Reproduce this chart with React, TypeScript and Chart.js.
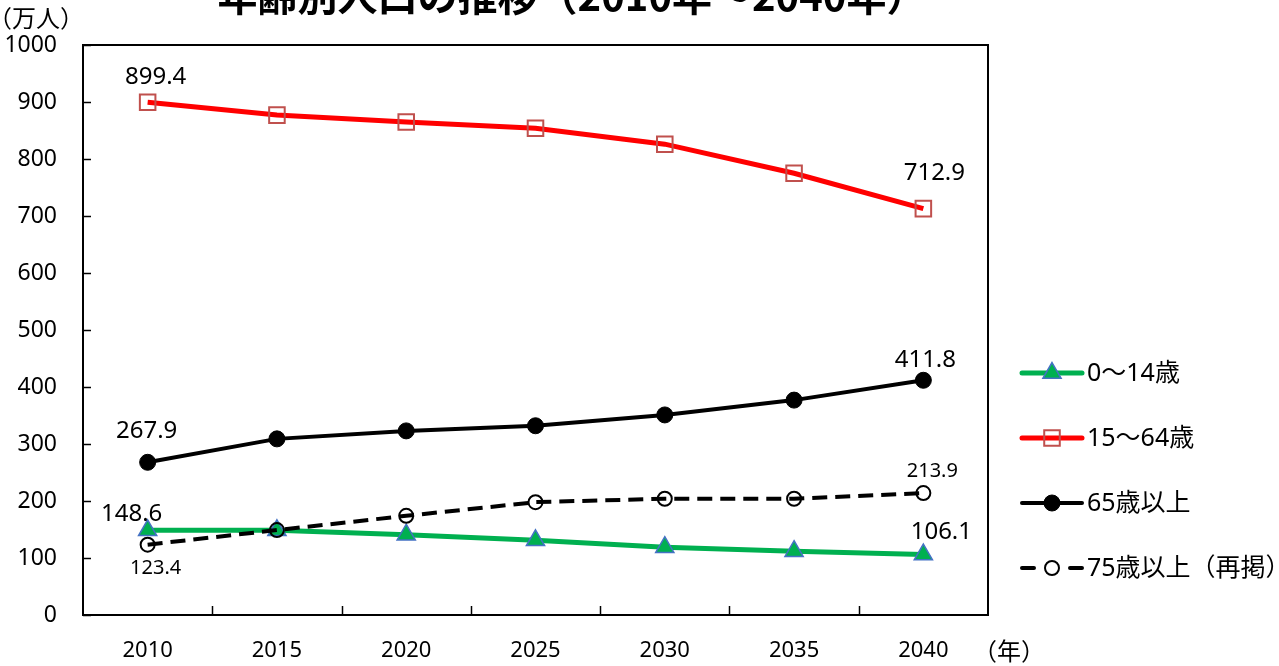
import React, { useEffect, useRef } from "react";
import { Chart, registerables } from "chart.js";

Chart.register(...registerables);

const years = ["2010", "2015", "2020", "2025", "2030", "2035", "2040"];
const age0to14 = [148.6, 148.5, 141, 131, 119, 112, 106.1];
const age15to64 = [899.4, 877, 865, 854, 826, 775, 712.9];
const age65plus = [267.9, 309, 323, 332, 351, 377, 411.8];
const age75plus = [123.4, 149, 174, 198, 204, 204, 213.9];
const seriesNames = ["0～14歳", "15～64歳", "65歳以上", "75歳以上（再掲）"];
const yMin = 0;
const yMax = 1000;
const yStep = 100;
const titleText = "年齢別人口の推移（2010年～2040年）";
const yUnitText = "（万人）";
const xUnitText = "（年）";

const FONT = "'Noto Sans', 'Noto Sans CJK JP', sans-serif";
const CJK = "'Noto Sans CJK JP', 'Noto Sans', sans-serif";

// label placement per dataset: which point index, offset from point, font size
const labelSpec = [
  [{ i: 0, dx: -16, dy: -16, size: 24 }, { i: 6, dx: 18, dy: -22, size: 24 }],
  [{ i: 0, dx: 8, dy: -25, size: 24 }, { i: 6, dx: 11, dy: -35, size: 24 }],
  [{ i: 0, dx: -1, dy: -31, size: 24 }, { i: 6, dx: 2, dy: -20, size: 24 }],
  [{ i: 0, dx: 8, dy: 24, size: 20 }, { i: 6, dx: 9, dy: -22, size: 20 }],
];

function drawMarker(ctx: CanvasRenderingContext2D, ds: any, x: number, y: number) {
  const r = ds.pointRadius;
  ctx.save();
  ctx.setLineDash([]);
  ctx.lineWidth = ds.pointBorderWidth;
  ctx.strokeStyle = ds.pointBorderColor;
  ctx.fillStyle = ds.pointBackgroundColor;
  ctx.beginPath();
  if (ds.pointStyle === "triangle") {
    const a = (Math.PI * 2) / 3;
    ctx.moveTo(x, y - r);
    ctx.lineTo(x + r * Math.sin(a), y - r * Math.cos(a));
    ctx.lineTo(x - r * Math.sin(a), y - r * Math.cos(a));
    ctx.closePath();
  } else if (ds.pointStyle === "rect") {
    const s = Math.SQRT1_2 * r;
    ctx.rect(x - s, y - s, 2 * s, 2 * s);
  } else {
    ctx.arc(x, y, r, 0, Math.PI * 2);
  }
  ctx.fill();
  ctx.stroke();
  ctx.restore();
}

const decorPlugin = {
  id: "decor",
  afterDraw(chart: any) {
    const ctx: CanvasRenderingContext2D = chart.ctx;
    const { left, right, top, bottom } = chart.chartArea;
    const xs = chart.scales.x;
    const ys = chart.scales.y;
    ctx.save();

    // frame
    ctx.strokeStyle = "#000";
    ctx.lineWidth = 2;
    ctx.strokeRect(left, top, right - left, bottom - top);

    // y tick marks (inward)
    ctx.lineWidth = 1.5;
    ys.ticks.forEach((t: any) => {
      const py = Math.round(ys.getPixelForValue(t.value)) + 0.5;
      ctx.beginPath();
      ctx.moveTo(left, py);
      ctx.lineTo(left + 8, py);
      ctx.stroke();
    });
    // x tick marks at category boundaries (inward)
    for (let i = 0; i < years.length - 1; i++) {
      const px = Math.round((xs.getPixelForTick(i) + xs.getPixelForTick(i + 1)) / 2) + 0.5;
      ctx.beginPath();
      ctx.moveTo(px, bottom);
      ctx.lineTo(px, bottom - 9);
      ctx.stroke();
    }

    // title & units
    ctx.fillStyle = "#000";
    ctx.textAlign = "center";
    ctx.textBaseline = "alphabetic";
    ctx.font = `bold 40px ${CJK}`;
    ctx.fillText(titleText, 572, 11);

    ctx.font = `24px ${CJK}`;
    ctx.textBaseline = "middle";
    ctx.fillText(yUnitText, 36, 18);
    ctx.fillText(xUnitText, 1009, 651);

    // data labels
    chart.data.datasets.forEach((ds: any, di: number) => {
      const meta = chart.getDatasetMeta(di);
      labelSpec[di].forEach((sp) => {
        const pt = meta.data[sp.i];
        ctx.font = `${sp.size}px ${FONT}`;
        ctx.textAlign = "center";
        ctx.textBaseline = "middle";
        ctx.fillText(Number(ds.data[sp.i]).toFixed(1), pt.x + sp.dx, pt.y + sp.dy);
      });
    });

    // legend
    const legendY = [373, 438, 503, 568];
    const lx0 = 1022;
    const lx1 = 1082;
    const mx = 1052;
    chart.data.datasets.forEach((ds: any, di: number) => {
      const y = legendY[di];
      ctx.save();
      ctx.strokeStyle = ds.borderColor;
      ctx.lineWidth = ds.borderWidth;
      ctx.lineCap = "round";
      ctx.beginPath();
      if (ds.borderDash && ds.borderDash.length) {
        ctx.moveTo(lx0, y);
        ctx.lineTo(lx0 + 12, y);
        ctx.moveTo(lx1 - 12, y);
        ctx.lineTo(lx1, y);
      } else {
        ctx.moveTo(lx0, y);
        ctx.lineTo(lx1, y);
      }
      ctx.stroke();
      ctx.restore();
      drawMarker(ctx, ds, mx, y);
      ctx.fillStyle = "#000";
      ctx.font = `25px ${FONT}`;
      ctx.textAlign = "left";
      ctx.textBaseline = "middle";
      ctx.fillText(ds.label, 1087, y + 1);
    });

    ctx.restore();
  },
};

export default function App() {
  const ref = useRef<HTMLCanvasElement | null>(null);
  useEffect(() => {
    if (!ref.current) return;
    const chart = new Chart(ref.current, {
      type: "line",
      data: {
        labels: years,
        datasets: [
          {
            label: seriesNames[0],
            data: age0to14,
            borderColor: "#00B050",
            borderWidth: 5,
            pointStyle: "triangle",
            pointRadius: 10.5,
            pointBackgroundColor: "#00B050",
            pointBorderColor: "#4472C4",
            pointBorderWidth: 1.5,
            order: 4,
          },
          {
            label: seriesNames[1],
            data: age15to64,
            borderColor: "#FF0000",
            borderWidth: 5,
            pointStyle: "rect",
            pointRadius: 11,
            pointBackgroundColor: "rgba(0,0,0,0)",
            pointBorderColor: "#C0504D",
            pointBorderWidth: 2,
            order: 3,
          },
          {
            label: seriesNames[2],
            data: age65plus,
            borderColor: "#000000",
            borderWidth: 4,
            pointStyle: "circle",
            pointRadius: 8,
            pointBackgroundColor: "#000000",
            pointBorderColor: "#000000",
            pointBorderWidth: 1,
            order: 2,
          },
          {
            label: seriesNames[3],
            data: age75plus,
            borderColor: "#000000",
            borderWidth: 4,
            borderDash: [15, 8],
            pointStyle: "circle",
            pointRadius: 7,
            pointBackgroundColor: "rgba(255,255,255,0)",
            pointBorderColor: "#000000",
            pointBorderWidth: 2,
            order: 1,
          },
        ],
      } as any,
      options: {
        responsive: false,
        animation: false,
        devicePixelRatio: 1,
        layout: { padding: { top: 45, right: 291, left: 0, bottom: 0 } },
        plugins: {
          legend: { display: false },
          tooltip: { enabled: false },
          title: { display: false },
        },
        elements: { line: { tension: 0 } },
        scales: {
          x: {
            type: "category",
            offset: true,
            grid: { display: false, drawTicks: false },
            border: { display: false },
            ticks: { color: "#000", font: { family: FONT, size: 22 }, padding: 23 },
            afterFit: (s: any) => {
              s.height = 51;
            },
          },
          y: {
            min: yMin,
            max: yMax,
            grid: { display: false, drawTicks: false },
            border: { display: false },
            ticks: {
              stepSize: yStep,
              color: "#000",
              font: { family: FONT, size: 23 },
              padding: 26,
              callback: (v: any) => String(v),
            },
            afterFit: (s: any) => {
              s.width = 83;
            },
          },
        },
      } as any,
      plugins: [decorPlugin],
    });
    return () => chart.destroy();
  }, []);
  return (
    <div style={{ position: "absolute", left: 0, top: 0, width: 1279, height: 666, background: "#fff" }}>
      <canvas ref={ref} width={1279} height={666} style={{ display: "block" }} />
    </div>
  );
}
